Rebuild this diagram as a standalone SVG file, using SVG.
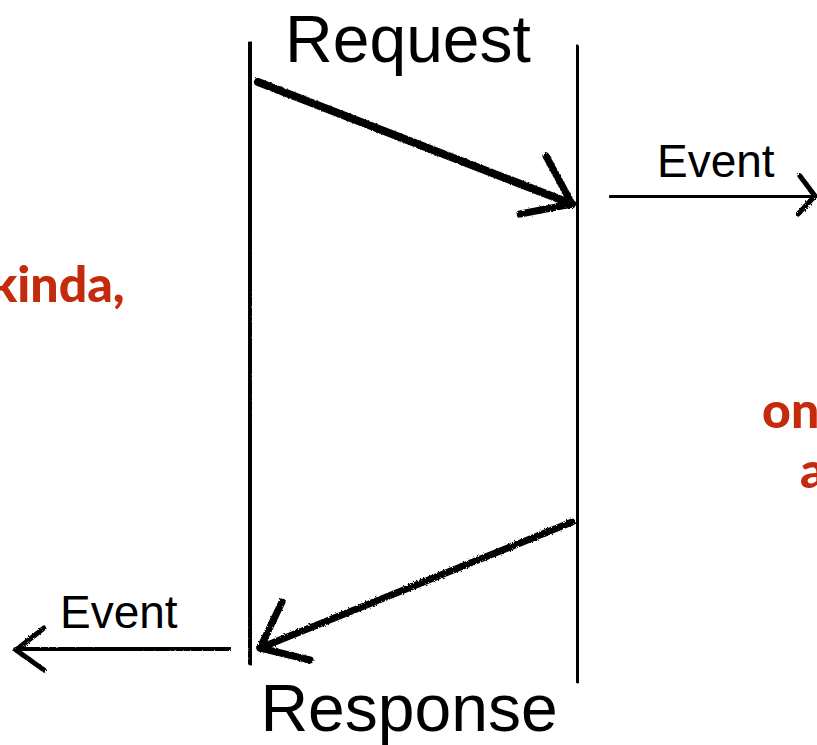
<svg xmlns="http://www.w3.org/2000/svg" width="817" height="745" viewBox="0 0 817 745">
<style>
.lbl{font-family:"Helvetica Neue","Liberation Sans",Arial,sans-serif;fill:#000}
.big{font-size:66px}
.ev{font-size:46px}
.note{font-family:"Lato","Noto Sans",sans-serif;font-weight:900;font-size:50px;fill:#c42a0c}
.sk{fill:none;stroke:#000;stroke-linecap:round;stroke-linejoin:round;filter:url(#rough)}
</style>
<defs>
<filter id="rough" x="-10%" y="-10%" width="120%" height="120%">
<feTurbulence type="fractalNoise" baseFrequency="0.6" numOctaves="2" seed="3" result="n"/>
<feDisplacementMap in="SourceGraphic" in2="n" scale="3"/>
</filter>
</defs>
<rect width="817" height="745" fill="#fff"/>
<g id="lifeline-left"><path class="sk" d="M250,45 L249,360 L251,662" stroke-width="7"/></g>
<g id="lifeline-right"><path class="sk" d="M577,48 L578,380 L577,680" stroke-width="7"/></g>
<g id="request"><text class="lbl big" x="408" y="62" text-anchor="middle">Request</text></g>
<g id="response"><text class="lbl big" x="409" y="731" text-anchor="middle">Response</text></g>
<g id="event-right"><text class="lbl ev" x="657" y="177">Event</text></g>
<g id="event-left"><text class="lbl ev" x="60" y="628">Event</text></g>
<g id="notes">
<text class="note" x="-10" y="302">kinda,</text>
<text class="note" x="762" y="428">on</text>
<text class="note" x="800" y="488">a</text>
</g>
<g id="connectors">
<path class="sk" d="M258,82 L572,204" stroke-width="8"/>
<path class="sk" d="M546,156 L572,204 L520,214" stroke-width="7"/>
<path class="sk" d="M612,197 L815,196" stroke-width="6"/>
<path class="sk" d="M800,176 L815,196 L798,214" stroke-width="5"/>
<path class="sk" d="M572,522 L260,648" stroke-width="7"/>
<path class="sk" d="M282,602 L260,648 L310,660" stroke-width="7"/>
<path class="sk" d="M228,648 L16,650" stroke-width="6"/>
<path class="sk" d="M44,628 L16,650 L44,670" stroke-width="5"/>
</g>
</svg>
